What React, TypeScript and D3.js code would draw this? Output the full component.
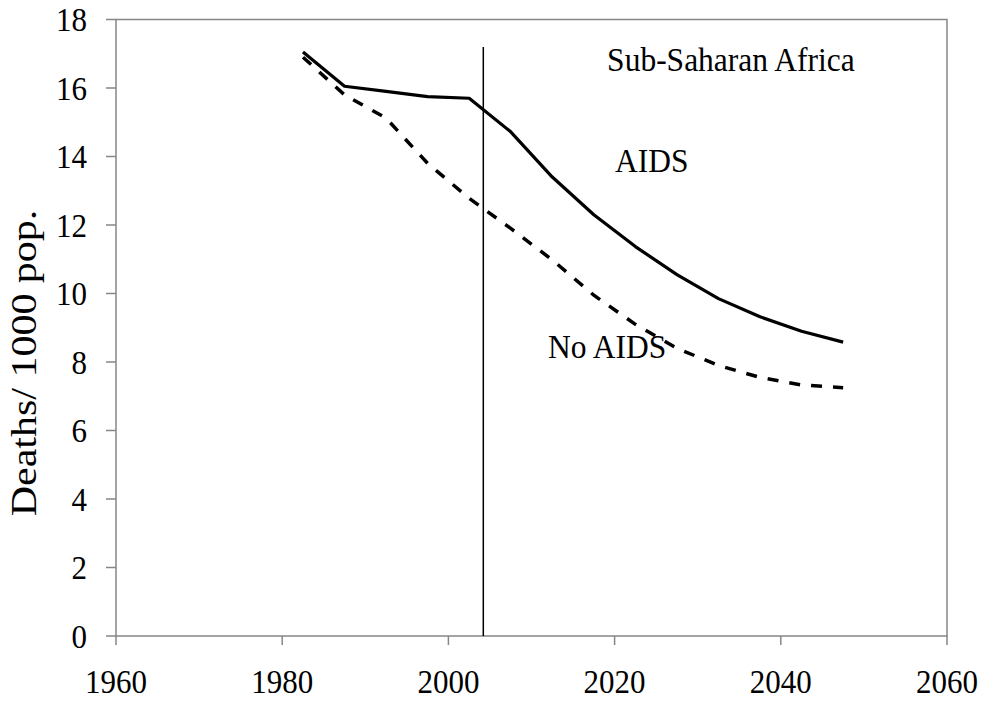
import React from "react";
import * as d3 from "d3";

const years = [1982.5, 1987.5, 1992.5, 1997.5, 2002.5, 2007.5, 2012.5, 2017.5, 2022.5, 2027.5, 2032.5, 2037.5, 2042.5, 2047.5];
const aids = [17.05, 16.05, 15.9, 15.75, 15.7, 14.72, 13.4, 12.3, 11.37, 10.55, 9.85, 9.32, 8.9, 8.58];
const noAids = [16.9, 15.8, 15.12, 13.8, 12.78, 11.9, 10.98, 9.95, 9.1, 8.4, 7.9, 7.55, 7.33, 7.25];
const xTicks = [1960, 1980, 2000, 2020, 2040, 2060];
const yTicks = [0, 2, 4, 6, 8, 10, 12, 14, 16, 18];
const markerYear = 2004.2;
const markerTop = 17.2;
const yTitle = "Deaths/ 1000 pop.";
const annotations = [
  { text: "Sub-Saharan Africa", year: 2019.1, value: 16.5 },
  { text: "AIDS", year: 2020.05, value: 13.55 },
  { text: "No AIDS", year: 2012.0, value: 8.12 },
];

const W = 984, H = 704;
const left = 116, right = 947, top = 19.5, bottom = 636;
const font = "'Liberation Serif', 'Times New Roman', serif";
const stretch = 1.1;

export default function App() {
  const x = d3.scaleLinear().domain([1960, 2060]).range([left, right]);
  const y = d3.scaleLinear().domain([0, 18]).range([bottom, top]);
  const line = d3.line<number>().x((_, i) => x(years[i])).y((d) => y(d));
  const axisColor = "#868686";
  return (
    <svg width={W} height={H} style={{ position: "absolute", left: 0, top: 0, background: "#fff" }}>
      <rect x={left} y={top} width={right - left} height={bottom - top} fill="none" stroke={axisColor} strokeWidth={1.5} />
      {yTicks.map((t) => (
        <g key={"y" + t}>
          <line x1={left - 10} x2={left} y1={y(t)} y2={y(t)} stroke={axisColor} strokeWidth={1.5} />
          <text transform={`translate(${left - 29}, ${y(t) + 11.5}) scale(1, ${stretch})`} textAnchor="end" fontFamily={font} fontSize={31} fill="#000">{t}</text>
        </g>
      ))}
      {xTicks.map((t) => (
        <g key={"x" + t}>
          <line x1={x(t)} x2={x(t)} y1={bottom} y2={bottom + 9} stroke={axisColor} strokeWidth={1.5} />
          <text transform={`translate(${x(t)}, 693) scale(1, ${stretch})`} textAnchor="middle" fontFamily={font} fontSize={31} fill="#000">{t}</text>
        </g>
      ))}
      <text transform={`translate(36, 363) rotate(-90) scale(1.2, 1)`} textAnchor="middle" fontFamily={font} fontSize={35} fill="#000">{yTitle}</text>
      <line x1={x(markerYear)} x2={x(markerYear)} y1={y(markerTop)} y2={y(0)} stroke="#000" strokeWidth={1.5} />
      <path d={line(aids) || ""} fill="none" stroke="#000" strokeWidth={3.2} strokeLinejoin="round" />
      <path d={line(noAids) || ""} fill="none" stroke="#000" strokeWidth={3.5} strokeDasharray="11,11" />
      {annotations.map((a) => (
        <text key={a.text} transform={`translate(${x(a.year)}, ${y(a.value)}) scale(1, ${stretch})`} fontFamily={font} fontSize={31.5} fill="#000">{a.text}</text>
      ))}
    </svg>
  );
}
